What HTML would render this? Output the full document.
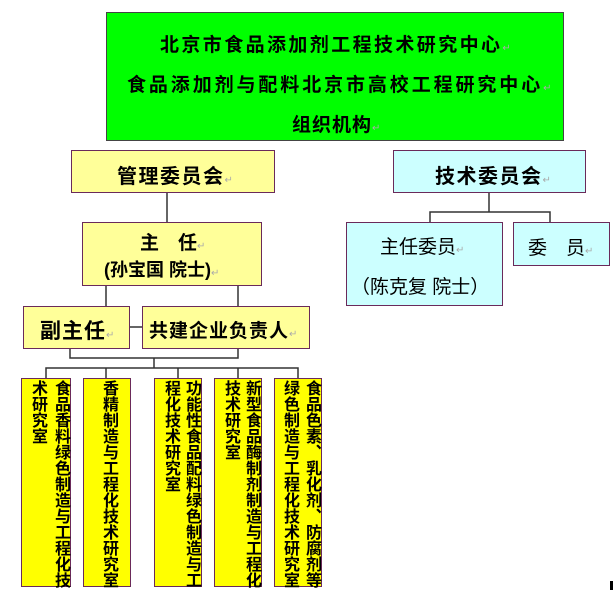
<!DOCTYPE html>
<html><head><meta charset="utf-8"><style>
body{margin:0;width:615px;height:592px;background:#fff;position:relative;overflow:hidden;font-family:"Liberation Sans","Noto Sans CJK SC","WenQuanYi Zen Hei",sans-serif;color:#000}
.b{position:absolute;box-sizing:border-box;border:1.5px solid #6a2a5a}
.y{background:#ffff99}.c{background:#ccffff}.g{background:#00ff00;border-color:#444}.v{background:#ffff00}
.t{position:absolute;white-space:nowrap;font-weight:bold}
.r{color:#aaa;font-size:10px;font-weight:normal}
.col{position:absolute;writing-mode:vertical-rl;font-size:16px;line-height:16px;font-weight:bold;white-space:nowrap;top:380px}
svg{position:absolute;left:0;top:0}
</style></head><body>
<svg width="615" height="592"><g stroke="#333" stroke-width="1.5" fill="none">
<line x1="167" y1="192" x2="167" y2="222"/>
<line x1="489" y1="192" x2="489" y2="212"/>
<polyline points="430,222 430,212 550,212 550,222"/>
<line x1="106" y1="285" x2="106" y2="306"/>
<line x1="238" y1="285" x2="238" y2="306"/>
<line x1="129" y1="327" x2="142" y2="327"/>
<polyline points="70,348 70,358 238,358 238,348"/>
<line x1="154" y1="358" x2="154" y2="368"/>
<polyline points="46,378 46,368 298,368 298,378"/>
<line x1="106" y1="368" x2="106" y2="378"/>
<line x1="178" y1="368" x2="178" y2="378"/>
<line x1="238" y1="368" x2="238" y2="378"/>
</g></svg>
<div class="b g" style="left:106px;top:12px;width:458px;height:129px"></div>
<div class="t" style="left:160px;top:30px;font-size:19px;letter-spacing:2.4px">北京市食品添加剂工程技术研究中心<span class="r">↵</span></div>
<div class="t" style="left:127px;top:70px;font-size:19px;letter-spacing:2.9px">食品添加剂与配料北京市高校工程研究中心<span class="r">↵</span></div>
<div class="t" style="left:292px;top:110px;font-size:19px;letter-spacing:1px">组织机构<span class="r">↵</span></div>

<div class="b y" style="left:71px;top:150px;width:204px;height:43px"></div>
<div class="t" style="left:117px;top:160px;font-size:20px;letter-spacing:1.5px">管理委员会<span class="r">↵</span></div>
<div class="b c" style="left:393px;top:150px;width:193px;height:43px"></div>
<div class="t" style="left:435px;top:160px;font-size:20px;letter-spacing:1.5px">技术委员会<span class="r">↵</span></div>

<div class="b y" style="left:82px;top:222px;width:180px;height:64px"></div>
<div class="t" style="left:140px;top:228px;font-size:19px">主　任<span class="r">↵</span></div>
<div class="t" style="left:104px;top:256px;font-size:18px">(孙宝国 院士)<span class="r">↵</span></div>

<div class="b c" style="left:346px;top:222px;width:157px;height:84px"></div>
<div class="t" style="left:380px;top:232px;font-size:19px;font-weight:normal">主任委员<span class="r">↵</span></div>
<div class="t" style="left:351px;top:272px;font-size:19px;font-weight:normal">（陈克复 院士）</div>
<div class="b c" style="left:513px;top:222px;width:97px;height:44px"></div>
<div class="t" style="left:528px;top:233px;font-size:19px;font-weight:normal">委　员<span class="r">↵</span></div>

<div class="b y" style="left:23px;top:306px;width:107px;height:43px"></div>
<div class="t" style="left:40px;top:315px;font-size:21px;letter-spacing:1px">副主任<span class="r">↵</span></div>
<div class="b y" style="left:142px;top:306px;width:168px;height:43px"></div>
<div class="t" style="left:149px;top:316px;font-size:19px;letter-spacing:1px">共建企业负责人<span class="r">↵</span></div>

<div class="b v" style="left:21px;top:378px;width:50px;height:209px;overflow:hidden"></div>
<div class="col" style="left:52px">食品香料绿色制造与工程化技</div>
<div class="col" style="left:29px">术研究室</div>
<div class="b v" style="left:83px;top:378px;width:48px;height:209px"></div>
<div class="col" style="left:100px">香精制造与工程化技术研究室</div>
<div class="b v" style="left:154px;top:378px;width:48px;height:209px"></div>
<div class="col" style="left:183px">功能性食品配料绿色制造与工</div>
<div class="col" style="left:162px">程化技术研究室</div>
<div class="b v" style="left:214px;top:378px;width:48px;height:209px"></div>
<div class="col" style="left:243px">新型食品酶制剂制造与工程化</div>
<div class="col" style="left:222px">技术研究室</div>
<div class="b v" style="left:274px;top:378px;width:48px;height:209px"></div>
<div class="col" style="left:303px">食品色素、乳化剂、防腐剂等</div>
<div class="col" style="left:281px">绿色制造与工程化技术研究室</div>
<div style="position:absolute;left:610px;top:581px;width:3px;height:9px;background:#000"></div>
</body></html>
